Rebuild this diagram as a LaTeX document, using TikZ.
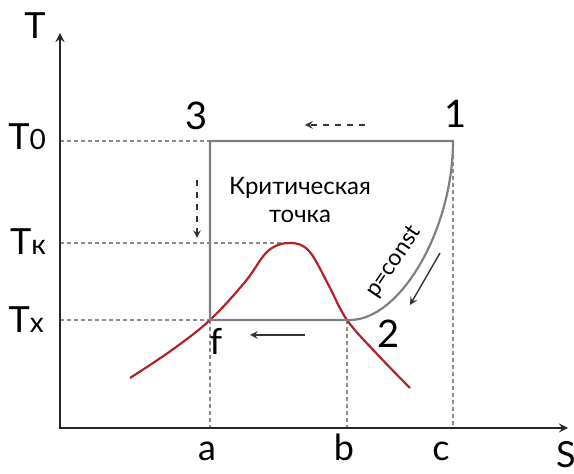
\documentclass[tikz,border=0pt]{standalone}
\usepackage{fontspec}
\setmainfont{Lato}
\definecolor{satred}{RGB}{178,34,40}
\begin{document}
\begin{tikzpicture}[>=stealth, x=0.5pt, y=-0.5pt, font=\fontsize{12}{14}\selectfont]
        \tikzset{axis/.style={draw=black!85, line width=1pt},
            guide/.style={draw=black!45, line width=0.6pt, dash pattern=on 2pt off 1.5pt},
            cyc/.style={draw=black!50, line width=1.1pt},
            hint/.style={draw=black!80, line width=0.7pt, ->},
            num/.style={font=\fontsize{19}{20}\selectfont, anchor=base},
            tick/.style={font=\fontsize{18}{20}\selectfont, anchor=base}}
        \useasboundingbox (0,0) rectangle (574,474);

        \coordinate (O) at (60,428);
        \coordinate (Tend) at (60,33);
        \coordinate (Send) at (568,428);
        \coordinate (p3) at (210,141);
        \coordinate (p1) at (453,141);
        \coordinate (pf) at (210,320);
        \coordinate (p2) at (350,320);
        \coordinate (pk) at (290,243);
        \coordinate (pa) at (210,428);
        \coordinate (pb) at (347,428);
        \coordinate (pc) at (453,428);
        \coordinate (pbt) at (347,320);
        \coordinate (y0) at (60,141);
        \coordinate (yk) at (60,243);
        \coordinate (yx) at (60,320);

        % guide lines
        \draw[guide] (y0) -- (p3);
        \draw[guide] (yk) -- (pk);
        \draw[guide] (yx) -- (pf);
        \draw[guide] (pf) -- (pa);
        \draw[guide] (pbt) -- (pb);
        \draw[guide] (p1) -- (pc);

        % axes
        \draw[axis, <->] (Tend) -- (O) -- (Send);

        % saturation curve
        \draw[satred, line width=1.1pt] plot[smooth, tension=0.6] coordinates {(130,378) (172,350) (210,320) (245,282) (268,251) (290,243) (309,251) (328,284) (347,320) (377,354) (410,388)};

        % cycle
        \draw[cyc] (p3) -- (pf) -- (p2) .. controls (400,320) and (453,230) .. (p1) -- cycle;

        % arrows
        \coordinate (tl1) at (365,125);
        \coordinate (tl2) at (305,125);
        \coordinate (dl1) at (197,180);
        \coordinate (dl2) at (197,238);
        \coordinate (bl1) at (305,335);
        \coordinate (bl2) at (250,335);
        \coordinate (rl1) at (440,253);
        \coordinate (rl2) at (410,305);
        \draw[hint, dashed] (tl1) -- (tl2);
        \draw[hint, dashed] (dl1) -- (dl2);
        \draw[hint] (bl1) -- (bl2);
        \draw[hint] (rl1) -- (rl2);

        % labels
        \node[tick] (lT) at (35,39) {T};
        \node[tick] (lS) at (566,468) {S};
        \node[tick, anchor=base east] (lT0) at (53,150) {T{\fontsize{14}{14}\selectfont 0}};
        \node[tick, anchor=base east] (lTk) at (53,255) {T{\fontsize{14}{14}\selectfont к}};
        \node[tick, anchor=base east] (lTx) at (51,333) {T{\fontsize{14}{14}\selectfont x}};
        \node[tick] (la) at (207,461) {a};
        \node[tick] (lb) at (344,461) {b};
        \node[tick] (lc) at (441,461) {c};
        \node[num] (l3) at (197,130) {3};
        \node[num] (l1) at (456,128) {1};
        \node[num] (l2) at (389,348) {2};
        \node[tick] (lf) at (216,355) {f};
        \node[align=center] (crit) at (300,200) {Критическая\\точка};
        \node[rotate=56, inner sep=1pt, font=\fontsize{11.5}{13}\selectfont] (pconst) at (394,262) {p=const};
\end{tikzpicture}
\end{document}
